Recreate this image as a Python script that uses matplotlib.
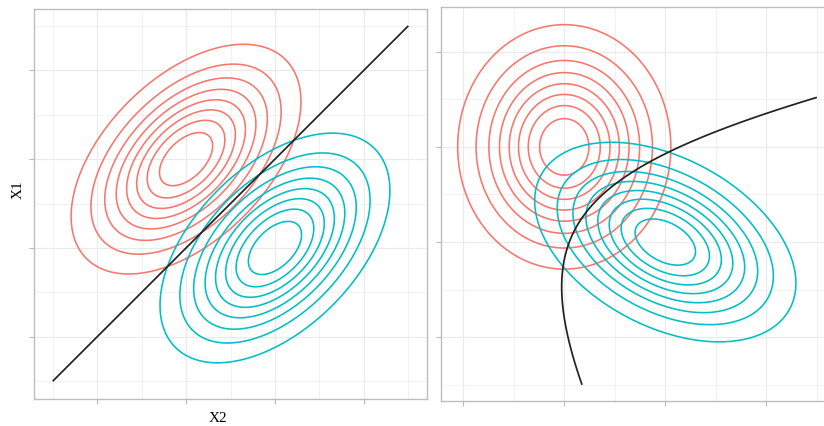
import numpy as np
import matplotlib.pyplot as plt

RED = '#F8766D'
TEAL = '#00BFC4'

# class means (same for both panels)
mean_red = [0.0, 0.0]
mean_teal = [1.0, -1.0]

# left panel: one shared covariance -> linear boundary
cov_shared = [[0.38, 0.19], [0.19, 0.38]]

# right panel: one covariance per class -> quadratic boundary
cov_red_q = [[0.253, 0.0], [0.0, 0.375]]
cov_teal_q = [[0.38, -0.127], [-0.127, 0.25]]

# contour levels, as fraction of the peak density
level_frac = [0.111, 0.222, 0.333, 0.444, 0.556, 0.667, 0.778, 0.889]

# region where the decision boundary was evaluated
bound_x = [-1.5, 2.5]
bound_y = [-2.5, 1.5]

# axis limits
left_xlim = [-1.71, 2.71]
left_ylim = [-2.70, 1.69]
right_xlim = [-1.22, 2.63]
right_ylim = [-2.67, 1.47]

major_ticks = [-2, -1, 0, 1, 2]
minor_ticks = [-2.5, -1.5, -0.5, 0.5, 1.5, 2.5]


def log_density(X, Y, mean, cov):
    inv = np.linalg.inv(cov)
    dx = X - mean[0]
    dy = Y - mean[1]
    q = inv[0, 0]*dx*dx + 2*inv[0, 1]*dx*dy + inv[1, 1]*dy*dy
    return -0.5*q - 0.5*np.log(np.linalg.det(cov)) - np.log(2*np.pi)


def draw_panel(ax, cov_r, cov_t, xlim, ylim):
    X, Y = np.meshgrid(np.linspace(-3, 4, 500), np.linspace(-4, 3, 500))
    for mean, cov, col in [(mean_red, cov_r, RED), (mean_teal, cov_t, TEAL)]:
        dens = np.exp(log_density(X, Y, mean, cov))
        peak = np.exp(-0.5*np.log(np.linalg.det(cov)) - np.log(2*np.pi))
        ax.contour(X, Y, dens, levels=[peak*f for f in level_frac],
                   colors=col, linewidths=1.15)

    # boundary: where both class densities are equal
    BX, BY = np.meshgrid(np.linspace(bound_x[0], bound_x[1], 400),
                         np.linspace(bound_y[0], bound_y[1], 400))
    diff = log_density(BX, BY, mean_red, cov_r) - log_density(BX, BY, mean_teal, cov_t)
    ax.contour(BX, BY, diff, levels=[0], colors='#222222', linewidths=1.25)

    ax.set_xlim(xlim)
    ax.set_ylim(ylim)
    ax.set_xticks([t for t in major_ticks if xlim[0] < t < xlim[1]])
    ax.set_yticks([t for t in major_ticks if ylim[0] < t < ylim[1]])
    ax.set_xticks([t for t in minor_ticks if xlim[0] < t < xlim[1]], minor=True)
    ax.set_yticks([t for t in minor_ticks if ylim[0] < t < ylim[1]], minor=True)
    ax.set_xticklabels([])
    ax.set_yticklabels([])
    ax.tick_params(which='major', length=3.5, width=0.8, color='#BBBBBB')
    ax.tick_params(which='minor', length=0)
    ax.grid(which='major', color='#EAEAEA', linewidth=0.8)
    ax.grid(which='minor', color='#F0F0F0', linewidth=0.6)
    ax.set_axisbelow(True)
    for s in ax.spines.values():
        s.set_color('#BDBDBD')
        s.set_linewidth(1.0)


fig = plt.figure(figsize=(8.24, 4.26), dpi=100)
W, H = 824.0, 426.0

ax1 = fig.add_axes([34/W, (H-399)/H, 393/W, 390/H])
draw_panel(ax1, cov_shared, cov_shared, left_xlim, left_ylim)

ax2 = fig.add_axes([441/W, (H-401)/H, 389/W, 394/H])
draw_panel(ax2, cov_red_q, cov_teal_q, right_xlim, right_ylim)

fig.text(18/W, 1-190/H, 'X1', rotation=90, ha='center', va='center',
         family='Liberation Serif', fontsize=11)
fig.text(218/W, 1-418/H, 'X2', ha='center', va='center',
         family='Liberation Serif', fontsize=11)

fig.savefig('out.png', dpi=100)
